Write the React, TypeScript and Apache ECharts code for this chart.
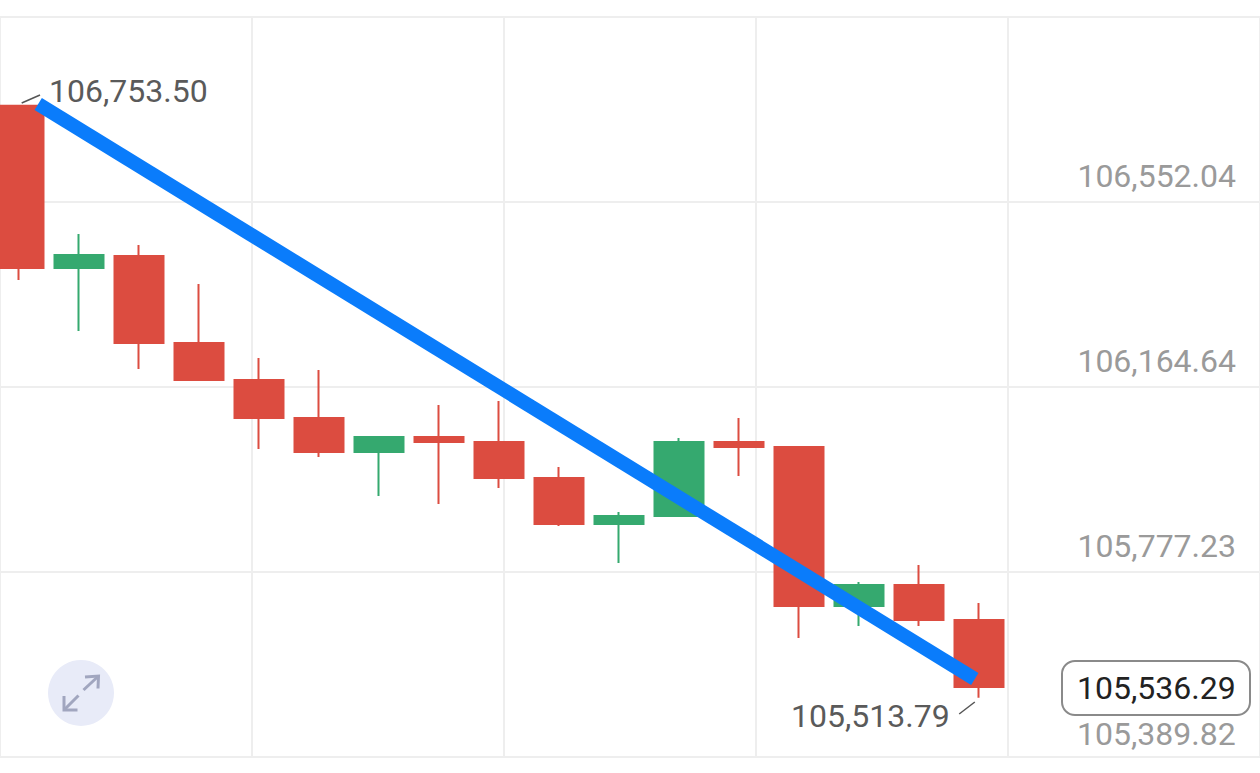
import React, { useEffect, useRef } from "react";
import * as echarts from "echarts";

const categories = ["1","2","3","4","5","6","7","8","9","10","11","12","13","14","15","16","17","18","19","20","21"];
const opens =  [106753.50,106413.83,106438.96,106256.77,106179.29,106099.72,106028.52,106059.93,106049.46,105974.07,105877.74,105894.50,106049.46,106038.99,105706.03,105750.00,105676.71];
const closes = [106413.83,106441.05,106256.77,106179.29,106099.72,106028.52,106059.93,106049.46,105974.07,105877.74,105894.50,106049.46,106038.99,105706.03,105750.00,105676.71,105536.29];
const lows =   [106388.70,106281.90,106202.33,106177.20,106034.80,106018.05,105936.38,105919.62,105953.13,105873.56,105796.07,105894.50,105978.26,105639.02,105664.15,105664.15,105513.79];
const highs =  [106753.50,106485.03,106461.99,106380.32,106225.36,106200.23,106059.93,106126.94,106135.32,105997.11,105902.87,106057.84,106099.72,106041.08,105756.29,105791.89,105712.31];

const priceLabels = [105777.23,106164.64,106552.04];
const priceGrid = [105389.82,105777.23,106164.64,106552.04,106939.45];
const priceMin = 105389.82;
const priceMax = 106939.45;

const trendLine = [[0.32,106757.26],[15.93,105553.16]];
const highLeader = [[0.045,106759.33],[0.35,106776.11]];
const lowLeader = [[15.67,105479.87],[15.93,105505.0]];

const highLabel = "106,753.50";
const lowLabel = "105,513.79";
const lastLabel = "105,536.29";
const bottomLabel = "105,389.82";

const fontFamily = "Roboto";
const RED = "#dc4c40";
const GREEN = "#35a96f";
const GRID = "#eeeeee";

const fmt = (v: number) => v.toLocaleString("en-US", { minimumFractionDigits: 2, maximumFractionDigits: 2 });

export default function App() {
  const ref = useRef<HTMLDivElement>(null);
  useEffect(() => {
    document.body.style.margin = "0";
    document.body.style.background = "#fff";
    const chart = echarts.init(ref.current!, null, { renderer: "svg" });
    const arrow = { stroke: "#a1a6bf", lineWidth: 3, fill: "none" };
    chart.setOption({
      animation: false,
      backgroundColor: "#ffffff",
      grid: [
        { left: 0, top: 17, width: 1260, height: 740 },
        { left: 19, top: 17, width: 1200, height: 740 },
      ],
      xAxis: [
        { type: "value", gridIndex: 0, min: 0, max: 1260, interval: 252,
          axisLine: { show: false }, axisTick: { show: false }, axisLabel: { show: false },
          splitLine: { show: true, lineStyle: { color: GRID, width: 2 } } },
        { type: "category", gridIndex: 1, data: categories, boundaryGap: false, show: false },
        { type: "value", gridIndex: 1, min: 0, max: 20, show: false, splitLine: { show: false } },
      ],
      yAxis: [
        { type: "value", gridIndex: 0, position: "right", min: priceMin, max: priceMax,
          axisLine: { show: false },
          axisTick: { show: false, customValues: priceGrid },
          splitLine: { show: true, lineStyle: { color: GRID, width: 2 } },
          axisLabel: { inside: true, margin: 24, customValues: priceLabels, formatter: fmt,
            color: "#9a9a9a", fontSize: 32, fontFamily, align: "right", verticalAlign: "bottom", padding: [0, 0, 10, 0] } },
        { type: "value", gridIndex: 1, min: priceMin, max: priceMax, show: false, splitLine: { show: false } },
      ],
      series: [
        { type: "candlestick", xAxisIndex: 1, yAxisIndex: 1, barWidth: 50, clip: false,
          data: opens.map((_, i) => [opens[i], closes[i], lows[i], highs[i]]),
          itemStyle: { color: GREEN, color0: RED, borderColor: GREEN, borderColor0: RED, borderWidth: 2 } },
        { type: "line", xAxisIndex: 2, yAxisIndex: 1, data: highLeader, symbol: "none", z: 4, clip: false,
          lineStyle: { color: "#555555", width: 1.5 } },
        { type: "line", xAxisIndex: 2, yAxisIndex: 1, data: lowLeader, symbol: "none", z: 4, clip: false,
          lineStyle: { color: "#555555", width: 1.5 } },
        { type: "line", xAxisIndex: 2, yAxisIndex: 1, data: trendLine, symbol: "none", z: 5, clip: false,
          lineStyle: { color: "#0a7cfb", width: 14, cap: "butt" } },
      ],
      graphic: [
        { type: "text", left: 49, top: 75, z: 10, style: { text: highLabel, fontSize: 32, fontFamily, fill: "#5a5a5a" } },
        { type: "text", left: 791, top: 700, z: 10, style: { text: lowLabel, fontSize: 32, fontFamily, fill: "#5a5a5a" } },
        { type: "text", left: 1077, top: 718, z: 10, style: { text: bottomLabel, fontSize: 32, fontFamily, fill: "#9a9a9a" } },
        { type: "rect", z: 10, shape: { x: 1062, y: 661, width: 188, height: 54, r: 13 },
          style: { fill: "#ffffff", stroke: "#8a8a8a", lineWidth: 2 } },
        { type: "text", left: 1077, top: 672, z: 11, style: { text: lastLabel, fontSize: 32, fontFamily, fill: "#222222" } },
        { type: "circle", z: 10, shape: { cx: 81, cy: 693, r: 33 }, style: { fill: "#e8ebf8" } },
        { type: "line", z: 11, shape: { x1: 83.5, y1: 690, x2: 98, y2: 676.5 }, style: arrow },
        { type: "polyline", z: 11, shape: { points: [[85, 677], [98.5, 676], [98, 688.5]] }, style: arrow },
        { type: "line", z: 11, shape: { x1: 78.5, y1: 695.5, x2: 64.5, y2: 709.5 }, style: arrow },
        { type: "polyline", z: 11, shape: { points: [[64, 696], [64, 710], [77.5, 710]] }, style: arrow },
      ],
    });
    return () => chart.dispose();
  }, []);
  return <div ref={ref} style={{ position: "absolute", left: 0, top: 0, width: 1260, height: 773 }} />;
}
